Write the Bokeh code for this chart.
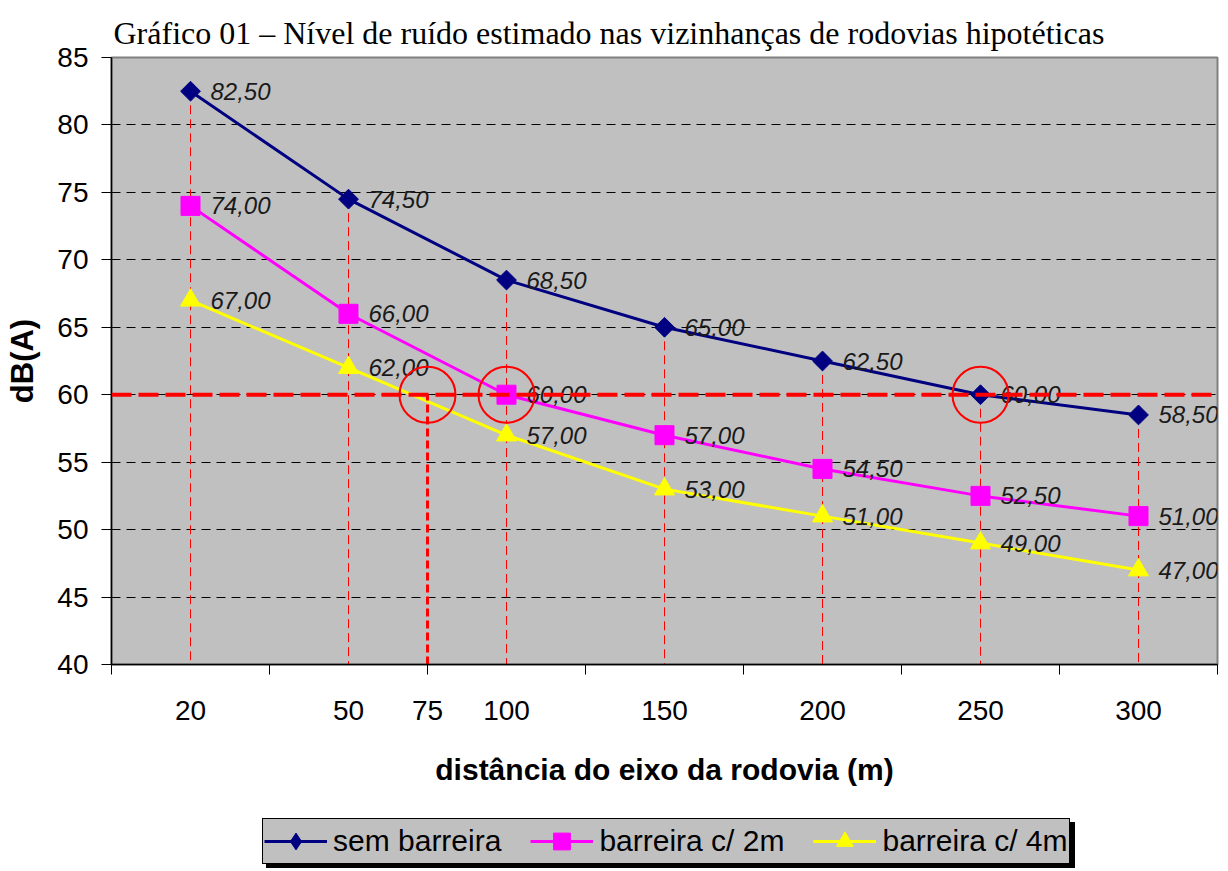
import numpy as np
from bokeh.plotting import figure
from bokeh.layouts import column
from bokeh.models import (FixedTicker, Range1d, Legend, LegendItem, Span,
                          CustomJSTickFormatter)
from bokeh.core.properties import value
from bokeh.embed import file_html
from bokeh.resources import INLINE

# ---- data ----
distances = ["20", "50", "100", "150", "200", "250", "300"]
dist_num = [20, 50, 100, 150, 200, 250, 300]
sem_barreira = [82.5, 74.5, 68.5, 65.0, 62.5, 60.0, 58.5]
barreira_2m = [74.0, 66.0, 60.0, 57.0, 54.5, 52.5, 51.0]
barreira_4m = [67.0, 62.0, 57.0, 53.0, 51.0, 49.0, 47.0]
limite_db = 60
dist_limite = 75
circle_dist = [75, 100, 250]
circle_db = [60, 60, 60]
y_ticks = [40, 45, 50, 55, 60, 65, 70, 75, 80, 85]
series_names = ["sem barreira", "barreira c/ 2m", "barreira c/ 4m"]

idx = list(range(len(distances)))
x_lim = float(np.interp(dist_limite, dist_num, idx))
circle_x = [float(np.interp(d, dist_num, idx)) for d in circle_dist]

p = figure(frame_width=1106, frame_height=607, output_backend="svg", toolbar_location=None,
           x_range=Range1d(-0.5, len(distances) - 0.5), y_range=Range1d(40, 85),
           min_border_left=111, min_border_right=3, min_border_top=57,
           min_border_bottom=145)
p.background_fill_color = "#C0C0C0"
p.border_fill_color = "white"
p.outline_line_color = "#808080"
p.outline_line_width = 2

p.title.text = "Gráfico 01 – Nível de ruído estimado nas vizinhanças de rodovias hipotéticas"
p.title.text_font = "Liberation Serif"
p.title.text_font_size = "32px"
p.title.text_font_style = "normal"
p.title.align = "left"
p.title.offset = 2
p.title.standoff = 14
p.title.text_color = "black"

# grid
p.xgrid.visible = False
p.ygrid.ticker = FixedTicker(ticks=y_ticks)
p.ygrid.grid_line_color = "black"
p.ygrid.grid_line_dash = "9 6"
p.ygrid.grid_line_width = 1

# y axis
ya = p.yaxis[0]
ya.ticker = FixedTicker(ticks=y_ticks)
ya.major_tick_out = 10
ya.major_tick_in = 0
ya.minor_tick_out = 0
ya.axis_line_color = "black"
ya.axis_line_width = 1.5
ya.major_label_text_font = "Liberation Sans"
ya.major_label_text_font_size = "28px"
ya.major_label_text_color = "black"
ya.major_label_standoff = 13
ya.axis_label = "dB(A)"
ya.axis_label_text_font = "Liberation Sans"
ya.axis_label_text_font_style = "bold"
ya.axis_label_text_font_size = "31px"
ya.axis_label_text_color = "black"
ya.axis_label_standoff = 14

# x axis
xa = p.xaxis[0]
tick_pos = idx + [x_lim]
tick_labels = distances + [str(dist_limite)]
xa.ticker = FixedTicker(ticks=tick_pos, minor_ticks=[i - 0.5 for i in range(len(distances) + 1)])
xa.formatter = CustomJSTickFormatter(args=dict(pos=tick_pos, labs=tick_labels), code="""
for (let i = 0; i < pos.length; i++) { if (Math.abs(pos[i] - tick) < 1e-6) return labs[i]; }
return '';
""")
xa.major_tick_out = 0
xa.major_tick_in = 0
xa.minor_tick_out = 10
xa.minor_tick_in = 0
xa.axis_line_color = "black"
xa.axis_line_width = 1.5
xa.major_label_text_font = "Liberation Sans"
xa.major_label_text_font_size = "28px"
xa.major_label_text_color = "black"
xa.major_label_standoff = 26
xa.axis_label = "distância do eixo da rodovia (m)"
xa.axis_label_text_font = "Liberation Sans"
xa.axis_label_text_font_style = "bold"
xa.axis_label_text_font_size = "30px"
xa.axis_label_text_color = "black"
xa.axis_label_standoff = 30

# drop lines
p.segment(x0=idx, y0=sem_barreira, x1=idx, y1=[40] * len(idx),
          line_color="#FF0000", line_width=1, line_dash="9 5")

# legend figure (separate strip below the chart); its y range hides the proxy data
pl = figure(frame_width=1220, frame_height=62, output_backend="svg", toolbar_location=None,
            x_range=Range1d(-0.5, len(distances) - 0.5), y_range=Range1d(0, 1),
            x_axis_location=None, y_axis_location=None,
            min_border_left=0, min_border_right=0, min_border_top=0, min_border_bottom=0)
pl.xgrid.visible = False
pl.ygrid.visible = False
pl.outline_line_color = None
pl.background_fill_color = "white"
pl.border_fill_color = "white"

# series
colors = ["#000080", "#FF00FF", "#FFFF00"]
markers = ["square", "square", "triangle"]
legend_markers = ["diamond", "square", "triangle"]
angles = [np.pi / 4, 0, 0]
sizes = [14, 19, 20]
series = [sem_barreira, barreira_2m, barreira_4m]
items = []
shadow_items = []
for name, vals, c, m, lm, a, s in zip(series_names, series, colors, markers,
                                      legend_markers, angles, sizes):
    p.line(idx, vals, line_color=c, line_width=3)
    p.scatter(idx, vals, marker=m, angle=a, size=s, fill_color=c, line_color=c)
    labels = [f"{v:.2f}".replace(".", ",") for v in vals]
    p.text(idx, vals, text=labels, x_offset=20, y_offset=0,
           text_font=value("Liberation Sans"), text_font_style="italic",
           text_font_size="24px", text_baseline="middle", text_color="#1a1a1a")
    # legend proxies: same series, outside the strip's visible y range
    l1 = pl.line(idx, vals, line_color=c, line_width=3)
    l2 = pl.scatter(idx, vals, marker=lm, size=s, fill_color=c, line_color=c)
    items.append(LegendItem(label=name, renderers=[l1, l2]))
    shadow_items.append(LegendItem(label=" ", renderers=[l1]))

# limit lines
p.add_layout(Span(location=limite_db, dimension="width", line_color="#FF0000",
                  line_width=4, line_dash="20 7"))
p.segment(x0=[x_lim], y0=[40], x1=[x_lim], y1=[limite_db],
          line_color="#FF0000", line_width=3, line_dash="8 4")
p.scatter(circle_x, circle_db, marker="circle", size=56, fill_alpha=0,
          line_color="#FF0000", line_width=2)


def style_legend(lg):
    lg.label_text_font = "Liberation Sans"
    lg.label_text_font_size = "30px"
    lg.label_text_color = "black"
    lg.glyph_width = 63
    lg.glyph_height = 42
    lg.label_standoff = 6
    lg.spacing = 29
    lg.padding = 1
    lg.border_line_color = "black"
    lg.border_line_width = 1.5
    lg.border_line_alpha = 1
    lg.background_fill_alpha = 1
    lg.margin = 0
    lg.orientation = "horizontal"


shadow = Legend(items=shadow_items, location=(266, 3))
style_legend(shadow)
shadow.label_width = 180
shadow.background_fill_color = "black"
pl.add_layout(shadow)

legend = Legend(items=items, location=(262, 7))
style_legend(legend)
legend.background_fill_color = "#C0C0C0"
pl.add_layout(legend)

layout = column(p, pl, spacing=0)
open("out.html", "w").write(file_html(layout, INLINE))
